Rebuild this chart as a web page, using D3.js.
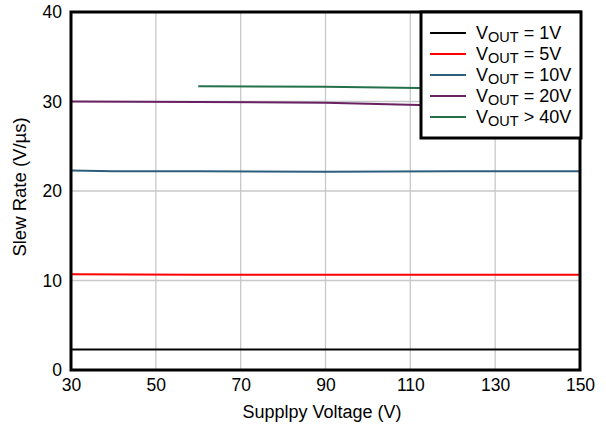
<!DOCTYPE html>
<html><head><meta charset="utf-8">
<script src="https://cdn.jsdelivr.net/npm/d3@7"></script>
<style>body{margin:0;background:#fff}text{font-family:"Liberation Sans",Arial,sans-serif}</style>
</head><body><svg id="c" width="606" height="428"></svg>
<script>
const xTicks = [30, 50, 70, 90, 110, 130, 150];
const yTicks = [0, 10, 20, 30, 40];
const seriesNames = ["= 1V", "= 5V", "= 10V", "= 20V", "> 40V"];
const seriesColors = ["#000000", "#ff0000", "#2c5f7c", "#6a2161", "#23704a"];
const vout1X = [30, 60, 90, 120, 150];
const vout1Y = [2.3, 2.3, 2.3, 2.3, 2.3];
const vout5X = [30, 60, 90, 120, 150];
const vout5Y = [10.7, 10.65, 10.65, 10.65, 10.65];
const vout10X = [30, 40, 60, 90, 120, 150];
const vout10Y = [22.3, 22.2, 22.2, 22.15, 22.2, 22.2];
const vout20X = [30, 60, 90, 112, 150];
const vout20Y = [30.0, 29.95, 29.85, 29.6, 29.5];
const vout40X = [60, 90, 112, 150];
const vout40Y = [31.7, 31.65, 31.5, 31.4];

const series = [
  {x: vout1X, y: vout1Y}, {x: vout5X, y: vout5Y}, {x: vout10X, y: vout10Y},
  {x: vout20X, y: vout20Y}, {x: vout40X, y: vout40Y}
];

const svg = d3.select("#c");
const L = 71, R = 580, T = 12, B = 370;
const x = d3.scaleLinear().domain([30, 150]).range([L, R]);
const y = d3.scaleLinear().domain([0, 40]).range([B, T]);

// grid
svg.append("g").selectAll("line").data(xTicks.slice(1, -1)).join("line")
  .attr("x1", d => x(d)).attr("x2", d => x(d)).attr("y1", T).attr("y2", B)
  .attr("stroke", "#c8c8c8").attr("stroke-width", 1.3);
svg.append("g").selectAll("line").data(yTicks.slice(1, -1)).join("line")
  .attr("y1", d => y(d)).attr("y2", d => y(d)).attr("x1", L).attr("x2", R)
  .attr("stroke", "#c8c8c8").attr("stroke-width", 1.3);

// lines
const line = d3.line().x(d => x(d[0])).y(d => y(d[1]));
series.forEach((s, i) => {
  svg.append("path").datum(s.x.map((v, j) => [v, s.y[j]]))
    .attr("d", line).attr("fill", "none").attr("stroke", seriesColors[i]).attr("stroke-width", 2);
});

// axes (labels only)
const xa = svg.append("g").attr("transform", `translate(0,${B})`)
  .call(d3.axisBottom(x).tickValues(xTicks).tickSize(0).tickPadding(9).tickFormat(d3.format("d")));
xa.select(".domain").remove();
xa.selectAll("text").attr("font-size", 17.5).attr("fill", "#000").attr("font-family", "Liberation Sans, Arial, sans-serif");
const ya = svg.append("g").attr("transform", `translate(${L},0)`)
  .call(d3.axisLeft(y).tickValues(yTicks).tickSize(0).tickPadding(9).tickFormat(d3.format("d")));
ya.select(".domain").remove();
ya.selectAll("text").attr("font-size", 17.5).attr("fill", "#000").attr("font-family", "Liberation Sans, Arial, sans-serif");

// frame
svg.append("rect").attr("x", L).attr("y", T).attr("width", R - L).attr("height", B - T)
  .attr("fill", "none").attr("stroke", "#000").attr("stroke-width", 3);

// titles
svg.append("text").attr("x", 322).attr("y", 418).attr("text-anchor", "middle")
  .attr("font-size", 18).text("Supplpy Voltage (V)");
svg.append("text").attr("transform", `translate(26,${(T + B) / 2 - 4}) rotate(-90)`).attr("text-anchor", "middle")
  .attr("font-size", 18.5).text("Slew Rate (V/\u00b5s)");

// legend
const lg = svg.append("g");
lg.append("rect").attr("x", 421).attr("y", 12).attr("width", 160).attr("height", 126)
  .attr("fill", "#fff").attr("stroke", "#000").attr("stroke-width", 3);
seriesNames.forEach((n, i) => {
  const cy = 33 + i * 21;
  lg.append("line").attr("x1", 430).attr("x2", 466).attr("y1", cy).attr("y2", cy)
    .attr("stroke", seriesColors[i]).attr("stroke-width", 2);
  const t = lg.append("text").attr("x", 476).attr("y", cy + 6).attr("font-size", 18);
  t.append("tspan").text("V");
  t.append("tspan").attr("dy", 3).attr("font-size", 14.5).text("OUT");
  t.append("tspan").attr("dy", -3).text(" " + n);
});
</script></body></html>
